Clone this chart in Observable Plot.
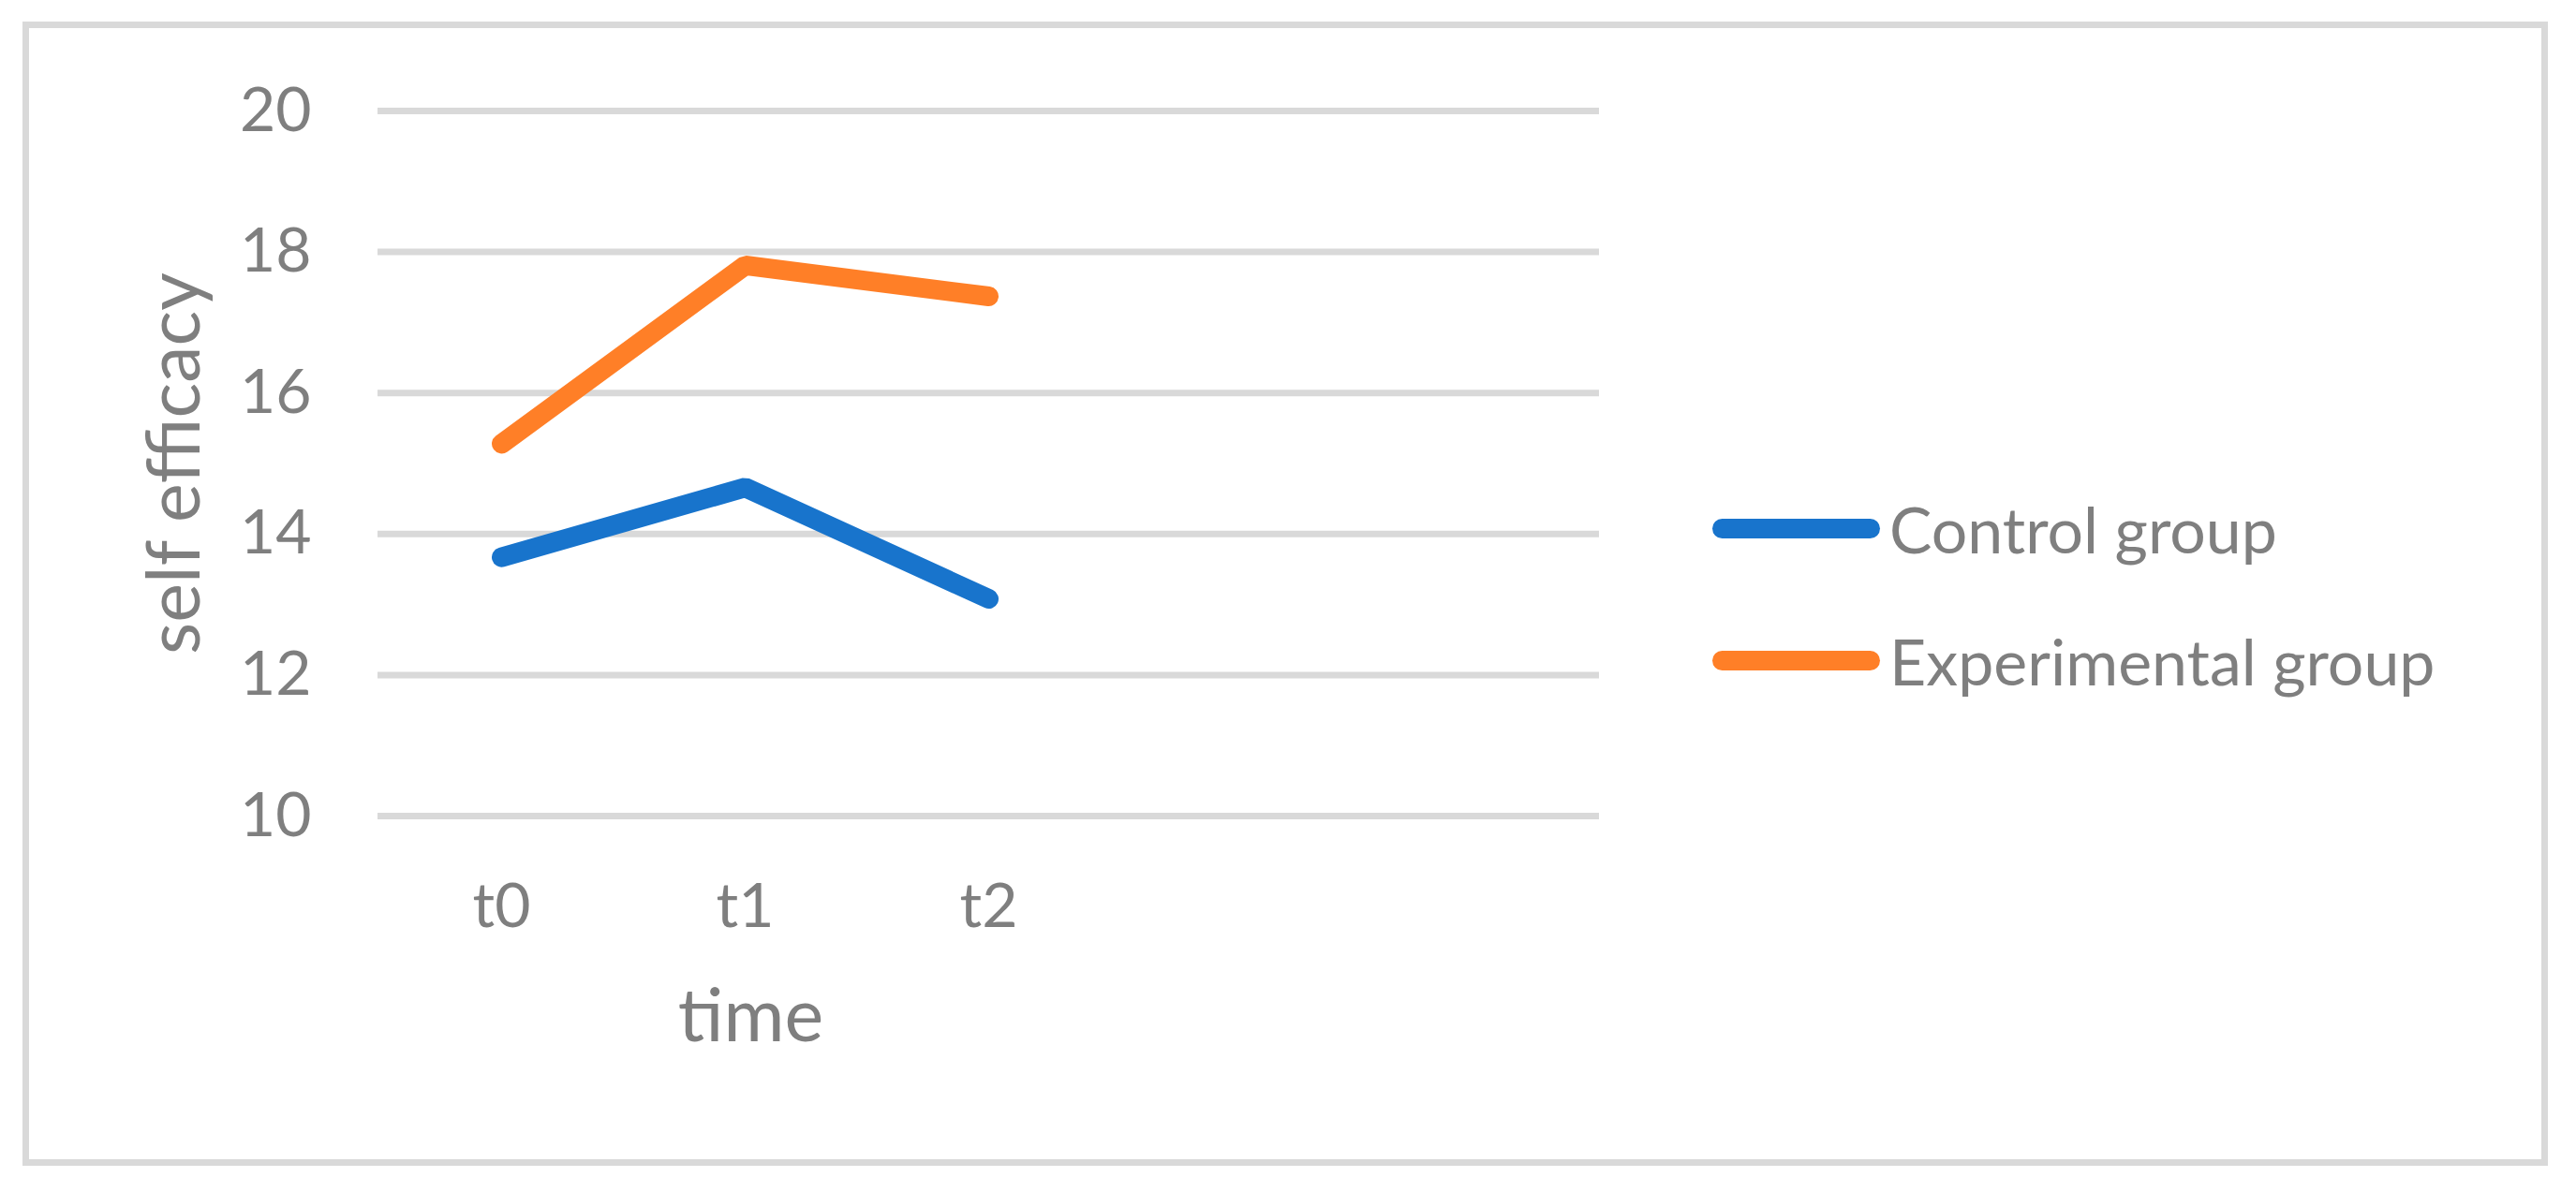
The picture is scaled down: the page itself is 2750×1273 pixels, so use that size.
<!DOCTYPE html>
<html>
<head>
<meta charset="utf-8">
<script src="https://cdn.jsdelivr.net/npm/d3@7"></script>
<script src="https://cdn.jsdelivr.net/npm/@observablehq/plot@0.6"></script>
<style>
  html, body { margin: 0; padding: 0; background: #fff; }
  #wrap { position: relative; width: 2750px; height: 1273px; overflow: hidden; }
  #frame { position: absolute; left: 24px; top: 23px; width: 2696px; height: 1222px; box-sizing: border-box; border: 7px solid #d9d9d9; pointer-events: none; }
  #legend { position: absolute; left: 1828px; top: 0; font-family: Lato, "Noto Sans", sans-serif; font-size: 68px; color: #7f7f7f; }
  .item { position: absolute; left: 0; display: flex; align-items: center; white-space: nowrap; }
  .sw { width: 179px; height: 21px; border-radius: 11px; margin-right: 10px; }
  svg { display: block; }
</style>
</head>
<body>
<div id="wrap">
  <div id="chart"></div>
  <div id="legend"></div>
  <div id="frame"></div>
</div>
<script>
const times = ["t0", "t1", "t2"];
const xSlots = ["t0", "t1", "t2", "s3", "s4"];
const seriesNames = ["Control group", "Experimental group"];
const controlValues = [13.67, 14.66, 13.08];
const experimentalValues = [15.28, 17.81, 17.37];
const yTicks = [10, 12, 14, 16, 18, 20];
const colors = ["#1874CC", "#FF7F27"];
const xTitle = "time";
const yTitle = "self efficacy";

const data = [];
times.forEach((t, i) => {
  data.push({time: t, value: controlValues[i], series: seriesNames[0]});
});
times.forEach((t, i) => {
  data.push({time: t, value: experimentalValues[i], series: seriesNames[1]});
});

const font = "Lato, 'Noto Sans', sans-serif";
const gray = "#7f7f7f";

const chart = Plot.plot({
  width: 2750,
  height: 1273,
  marginLeft: 403,
  marginRight: 1043,
  marginTop: 118,
  marginBottom: 402,
  style: {fontFamily: font, color: gray, background: "transparent", overflow: "visible"},
  x: {type: "point", domain: xSlots, padding: 0.5},
  y: {domain: [10, 20]},
  color: {domain: seriesNames, range: colors},
  marks: [
    Plot.gridY(yTicks, {stroke: "#d9d9d9", strokeOpacity: 1, strokeWidth: 7}),
    Plot.axisY(yTicks, {tickSize: 0, tickPadding: 71, fontSize: 66, fill: gray, label: null, tickFormat: d => String(d)}),
    Plot.axisX(times, {tickSize: 0, tickPadding: 72, fontSize: 66, fill: gray, label: null}),
    Plot.text([xTitle], {x: () => "t1", frameAnchor: "bottom", lineAnchor: "bottom", dy: 240, dx: 6, text: d => d, fontSize: 79, fill: gray}),
    Plot.text([yTitle], {frameAnchor: "left", textAnchor: "middle", rotate: -90, lineAnchor: "bottom", dx: -191, text: d => d, fontSize: 79, fill: gray}),
    Plot.line(data, {x: "time", y: "value", z: "series", stroke: "series", strokeWidth: 21, strokeLinecap: "round", strokeLinejoin: "miter"})
  ]
});
document.getElementById("chart").appendChild(chart);

const legend = document.getElementById("legend");
const legendY = [564, 705];
seriesNames.forEach((name, i) => {
  const item = document.createElement("div");
  item.className = "item";
  item.style.top = (legendY[i] - 45) + "px";
  item.style.height = "90px";
  const sw = document.createElement("div");
  sw.className = "sw";
  sw.style.background = colors[i];
  const label = document.createElement("span");
  label.textContent = name;
  item.appendChild(sw);
  item.appendChild(label);
  legend.appendChild(item);
});
</script>
</body>
</html>
